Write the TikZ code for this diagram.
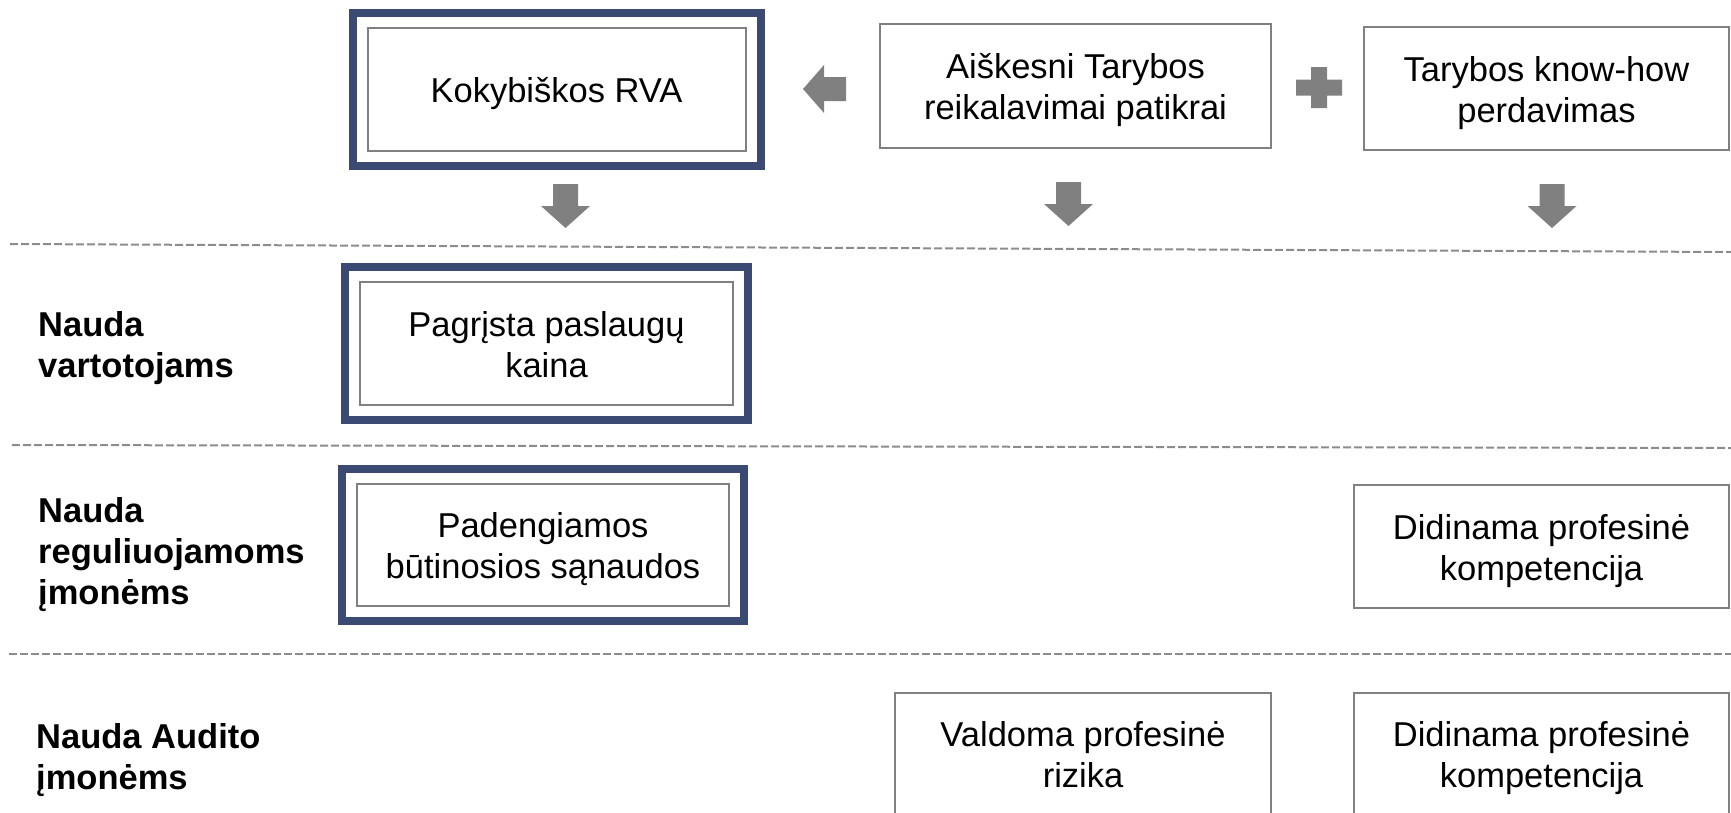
\documentclass[tikz,border=0pt]{standalone}
\usepackage{fontspec}
\setmainfont{Liberation Sans}
\usetikzlibrary{fit}
\definecolor{navyblue}{RGB}{59,74,114}
\definecolor{boxgray}{RGB}{128,128,128}
\definecolor{sepgray}{RGB}{140,140,140}
\newcommand{\topstrut}{\rule{0pt}{34pt}}
\newcommand{\botstrut}{\rule[-8pt]{0pt}{8pt}}

\begin{document}
\begin{tikzpicture}[x=1pt,y=-1pt,
  txtbox/.style={draw=boxgray,line width=2pt,fill=white,align=center,inner sep=0pt,font=\fontsize{34.5}{41}\selectfont},
  navyframe/.style={draw=navyblue,line width=8pt,inner sep=14pt},
  rowlabel/.style={anchor=west,align=left,inner sep=0pt,font=\fontsize{34.5}{41}\selectfont\bfseries},
  sepline/.style={draw=sepgray,line width=2pt,dash pattern=on 8pt off 3pt},
  downarr/.pic={\fill[boxgray] (-12.5,0) -- (12.5,0) -- (12.5,22) -- (24.5,22) -- (0,44) -- (-24.5,22) -- (-12.5,22) -- cycle;},
  leftarr/.pic={\fill[boxgray] (0,0) -- (21,-24) -- (21,-12) -- (43,-12) -- (43,12) -- (21,12) -- (21,24) -- cycle;},
  plussign/.pic={\fill[boxgray] (-23,-8) rectangle (23,8) (-8,-20.5) rectangle (8,20.5);}]
  \clip (0,0) rectangle (1731,812);

  \foreach \xa/\ya/\yb in {10/244/252, 12/445/448, 9/654/654}
    \draw[sepline] (\xa,\ya) -- (1731,\yb);

  \node[txtbox,minimum width=378pt,minimum height=123pt] (kok) at (556.5,89.5) {\topstrut Kokybiškos RVA\botstrut};
  \node[navyframe,fit=(kok)] (kokf) {};
  \node[txtbox,minimum width=391pt,minimum height=124pt] (aisk) at (1075.5,86) {\topstrut Aiškesni Tarybos\\reikalavimai patikrai\botstrut};
  \node[txtbox,minimum width=365pt,minimum height=123pt] (know) at (1546.5,88.5) {\topstrut Tarybos know-how\\perdavimas\botstrut};

  \node[rowlabel] (vart) at (38,348.5) {Nauda\\vartotojams};
  \node[txtbox,minimum width=373pt,minimum height=123pt] (kaina) at (546.5,343.5) {\topstrut Pagrįsta paslaugų\\kaina\botstrut};
  \node[navyframe,fit=(kaina)] (kainaf) {};

  \node[rowlabel] (reg) at (38,555) {Nauda\\reguliuojamoms\\įmonėms};
  \node[txtbox,minimum width=372pt,minimum height=122pt] (sanaud) at (543,545) {\topstrut Padengiamos\\būtinosios sąnaudos\botstrut};
  \node[navyframe,fit=(sanaud)] (sanaudf) {};
  \node[txtbox,minimum width=375pt,minimum height=123pt] (kompreg) at (1541.5,546.5) {\topstrut Didinama profesinė\\kompetencija\botstrut};

  \node[rowlabel] (aud) at (36,760.5) {Nauda Audito\\įmonėms};
  \node[txtbox,minimum width=376pt,minimum height=123pt] (rizika) at (1083,754) {\topstrut Valdoma profesinė\\rizika\botstrut};
  \node[txtbox,minimum width=375pt,minimum height=123pt] (kompaud) at (1541.5,754) {\topstrut Didinama profesinė\\kompetencija\botstrut};

  \pic at (803,89) {leftarr};
  \pic at (1319,87.5) {plussign};
  \foreach \xa/\ya in {565.5/184, 1068.5/182, 1552/184}
    \pic at (\xa,\ya) {downarr};
\end{tikzpicture}
\end{document}
